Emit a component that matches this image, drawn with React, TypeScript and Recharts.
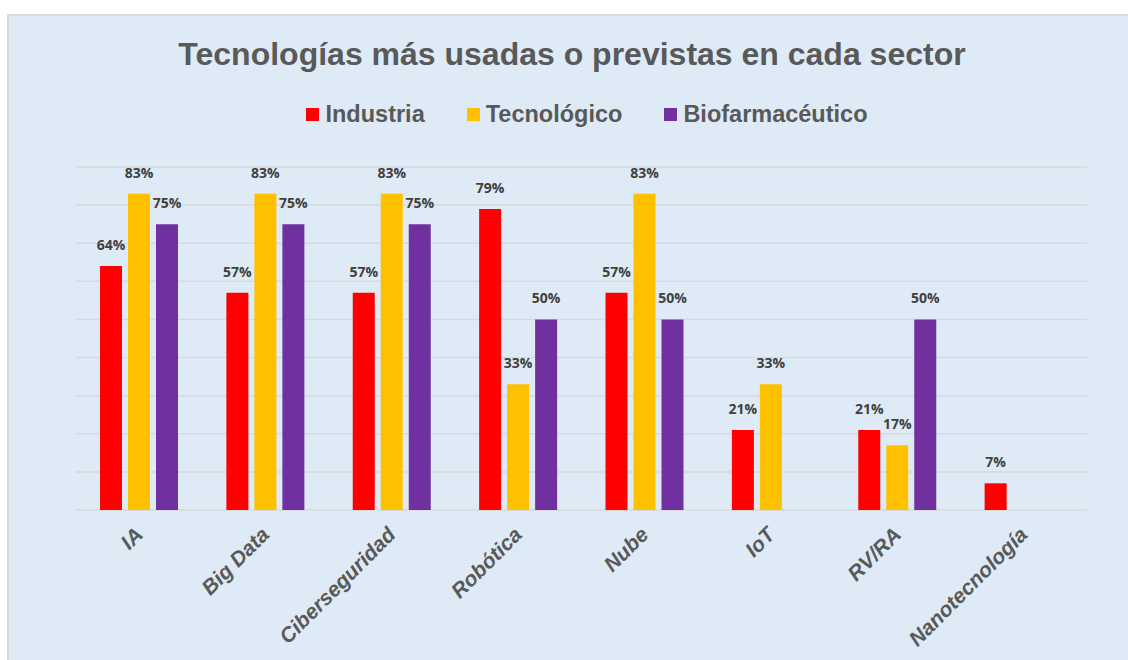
import React from 'react';
import { BarChart, Bar, XAxis, YAxis, CartesianGrid, Legend } from 'recharts';

// Porcentaje de empresas de cada sector que usan o prevén usar cada tecnología
const categories = ['IA', 'Big Data', 'Ciberseguridad', 'Robótica', 'Nube', 'IoT', 'RV/RA', 'Nanotecnología'];
const industria = [64, 57, 57, 79, 57, 21, 21, 7];
const tecnologico = [83, 83, 83, 33, 83, 33, 17, null];
const biofarma = [75, 75, 75, 50, 50, null, 50, null];
const yTicks = [0, 10, 20, 30, 40, 50, 60, 70, 80, 90];

const series = [
  { key: 'industria', name: 'Industria', color: '#FF0000' },
  { key: 'tecnologico', name: 'Tecnológico', color: '#FFC000' },
  { key: 'biofarma', name: 'Biofarmacéutico', color: '#7030A0' },
];

const data = categories.map((c, i) => ({
  name: c,
  industria: industria[i],
  tecnologico: tecnologico[i],
  biofarma: biofarma[i],
}));

const FONT = '"Liberation Sans", Arial, sans-serif';

function CategoryTick({ x, y, payload }: any) {
  const tx = x + 5;
  const ty = y + 18;
  return (
    <text
      x={tx}
      y={ty}
      transform={`rotate(-45, ${tx}, ${ty})`}
      textAnchor="end"
      fontFamily={FONT}
      fontStyle="italic"
      fontWeight="bold"
      fontSize={21}
      fill="#595959"
    >
      {payload.value}
    </text>
  );
}

function BarLabel(props: any) {
  const { x, y, width, value } = props;
  if (value == null) return null;
  return (
    <text
      x={x + width / 2}
      y={y - 16}
      textAnchor="middle"
      fontFamily='"Open Sans", sans-serif'
      fontWeight="bold"
      fontSize={14}
      fill="#404040"
    >
      {value}%
    </text>
  );
}

function LegendContent() {
  return (
    <div style={{ display: 'flex', justifyContent: 'center', gap: 42 }}>
      {series.map((s) => (
        <div key={s.key} style={{ display: 'flex', alignItems: 'center' }}>
          <span style={{ width: 13, height: 13, background: s.color, marginRight: 6 }} />
          <span
            style={{
              fontFamily: FONT,
              fontSize: 23.5,
              fontWeight: 'bold',
              color: '#595959',
              lineHeight: '28px',
            }}
          >
            {s.name}
          </span>
        </div>
      ))}
    </div>
  );
}

export default function App() {
  return (
    <div>
      <div
        style={{
          position: 'absolute',
          left: 7,
          top: 14,
          width: 1121,
          height: 646,
          background: '#DEEBF7',
          borderLeft: '2px solid #DADADA',
          borderTop: '2px solid #DADADA',
          boxSizing: 'border-box',
        }}
      />
      <div
        style={{
          position: 'absolute',
          left: 16,
          top: 38,
          width: 1112,
          textAlign: 'center',
          fontFamily: FONT,
          fontWeight: 'bold',
          fontSize: 32,
          lineHeight: '32px',
          color: '#595959',
        }}
      >
        Tecnologías más usadas o previstas en cada sector
      </div>
      <div style={{ position: 'absolute', left: 0, top: 0 }}>
        <BarChart
          width={1128}
          height={660}
          data={data}
          margin={{ top: 167, right: 41, bottom: 120, left: 76 }}
          barSize={22}
          barGap={6}
        >
          <CartesianGrid vertical={false} stroke="#D9D9D9" strokeWidth={1.5} />
          <XAxis dataKey="name" axisLine={false} tickLine={false} interval={0} tick={<CategoryTick />} height={30} />
          <YAxis hide domain={[0, 90]} ticks={yTicks} />
          <Legend
            verticalAlign="middle"
            align="center"
            content={<LegendContent />}
            wrapperStyle={{ top: 100, left: 0, width: 1128, paddingLeft: 46, boxSizing: 'border-box' }}
          />
          {series.map((s) => (
            <Bar
              key={s.key}
              dataKey={s.key}
              name={s.name}
              fill={s.color}
              isAnimationActive={false}
              label={<BarLabel />}
            />
          ))}
        </BarChart>
      </div>
    </div>
  );
}
